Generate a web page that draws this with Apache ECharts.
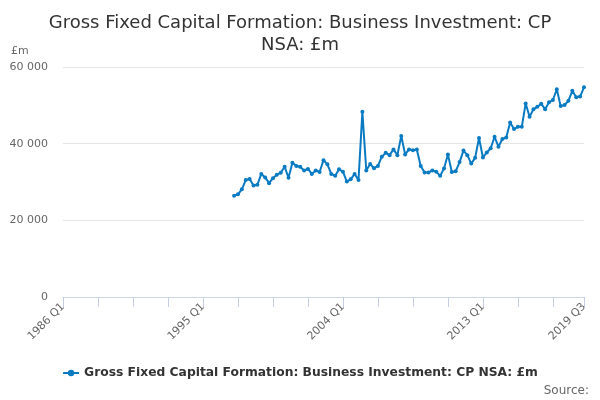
<!DOCTYPE html>
<html>
<head>
<meta charset="utf-8">
<title>Business Investment</title>
<script src="https://cdn.jsdelivr.net/npm/echarts@6/dist/echarts.min.js"></script>
<style>
	html, body { margin: 0; padding: 0; background: #fff; }
	#chart { width: 600px; height: 400px; }
</style>
</head>
<body>
<div id="chart"></div>
<script type="text/javascript">
	// quarters on the axis: 1986 Q1 .. 2019 Q3
	var firstYear = 1986;
	var lastYear = 2019, lastQuarter = 3;
	var quarters = [];
	for (var y = firstYear; y <= lastYear; y++) {
		for (var q = 1; q <= 4; q++) {
			if (y === lastYear && q > lastQuarter) break;
			quarters.push(y + ' Q' + q);
		}
	}

	// series starts at 1997 Q1, values in £m
	var seriesStart = '1997 Q1';
	var investment = [
		26400, 26800, 28100, 30500, 30800, 29100, 29300, 32100, 31200, 29700,
		31000, 31900, 32400, 34000, 31100, 35000, 34200, 34000, 33000, 33400,
		32100, 33000, 32600, 35700, 34600, 32100, 31600, 33300, 32700, 30100,
		30700, 32100, 30500, 48300, 33000, 34700, 33600, 34200, 36600, 37600,
		37000, 38500, 37000, 42000, 37200, 38500, 38300, 38500, 34200, 32500,
		32500, 33000, 32700, 31600, 33500, 37200, 32600, 32800, 35200, 38200,
		37000, 34800, 36300, 41500, 36400, 37700, 38800, 41800, 39200, 41200,
		41600, 45500, 43800, 44400, 44400, 50500, 47000, 49000, 49600, 50400,
		49000, 50800, 51400, 54200, 49800, 50100, 51200, 53800, 52100, 52300,
		54700
	];

	var yTicks = [0, 20000, 40000, 60000];
	var seriesName = 'Gross Fixed Capital Formation: Business Investment: CP NSA: £m';

	var startIdx = quarters.indexOf(seriesStart);
	var lineData = quarters.map(function (c, i) {
		var v = investment[i - startIdx];
		return (i < startIdx || v === undefined) ? null : v;
	});
	var lastIdx = quarters.length - 1;

	function spaced(v) {
		return String(v).replace(/\B(?=(\d{3})+(?!\d))/g, ' ');
	}

	var option = {
		animation: false,
		color: ['#0a7bc3'],
		textStyle: { fontFamily: 'DejaVu Sans' },
		title: {
			text: 'Gross Fixed Capital Formation: Business Investment: CP\nNSA: £m',
			left: 'center',
			top: 7,
			textStyle: { fontSize: 18, fontWeight: 'normal', color: '#333', lineHeight: 22, fontFamily: 'DejaVu Sans' }
		},
		grid: { left: 63, right: 16, top: 67, bottom: 103 },
		xAxis: {
			type: 'category',
			boundaryGap: false,
			data: quarters,
			axisLine: { lineStyle: { color: '#ccd6eb' } },
			axisTick: {
				length: 10,
				lineStyle: { color: '#c4cfe3' },
				interval: function (i) { return i % 9 === 0 || i === lastIdx; }
			},
			axisLabel: {
				rotate: 45,
				color: '#666',
				fontSize: 11,
				margin: 8,
				interval: function (i) { return i % 36 === 0 || i === lastIdx; }
			},
			splitLine: { show: false }
		},
		yAxis: {
			type: 'value',
			min: yTicks[0],
			max: yTicks[yTicks.length - 1],
			interval: yTicks[1] - yTicks[0],
			axisLine: { show: false },
			axisTick: { show: false },
			axisLabel: { color: '#666', fontSize: 11, margin: 15, formatter: spaced },
			splitLine: { lineStyle: { color: '#e6e6e6' } }
		},
		legend: {
			bottom: 16,
			left: 'center',
			itemWidth: 16,
			itemHeight: 8,
			itemGap: 6,
			textStyle: { fontSize: 12.3, fontWeight: 'bold', color: '#333' },
			data: [seriesName]
		},
		graphic: [
			{ type: 'text', left: 11, top: 46, style: { text: '£m', fill: '#666', fontSize: 11, fontFamily: 'DejaVu Sans' } },
			{ type: 'text', right: 11, top: 385, style: { text: 'Source:', fill: '#666', fontSize: 12, fontFamily: 'DejaVu Sans' } }
		],
		series: [{
			name: seriesName,
			type: 'line',
			data: lineData,
			symbol: 'circle',
			symbolSize: 4,
			showAllSymbol: true,
			connectNulls: false,
			lineStyle: { width: 2 }
		}]
	};

	var myChart = echarts.init(document.getElementById('chart'));
	myChart.setOption(option);
</script>
</body>
</html>
